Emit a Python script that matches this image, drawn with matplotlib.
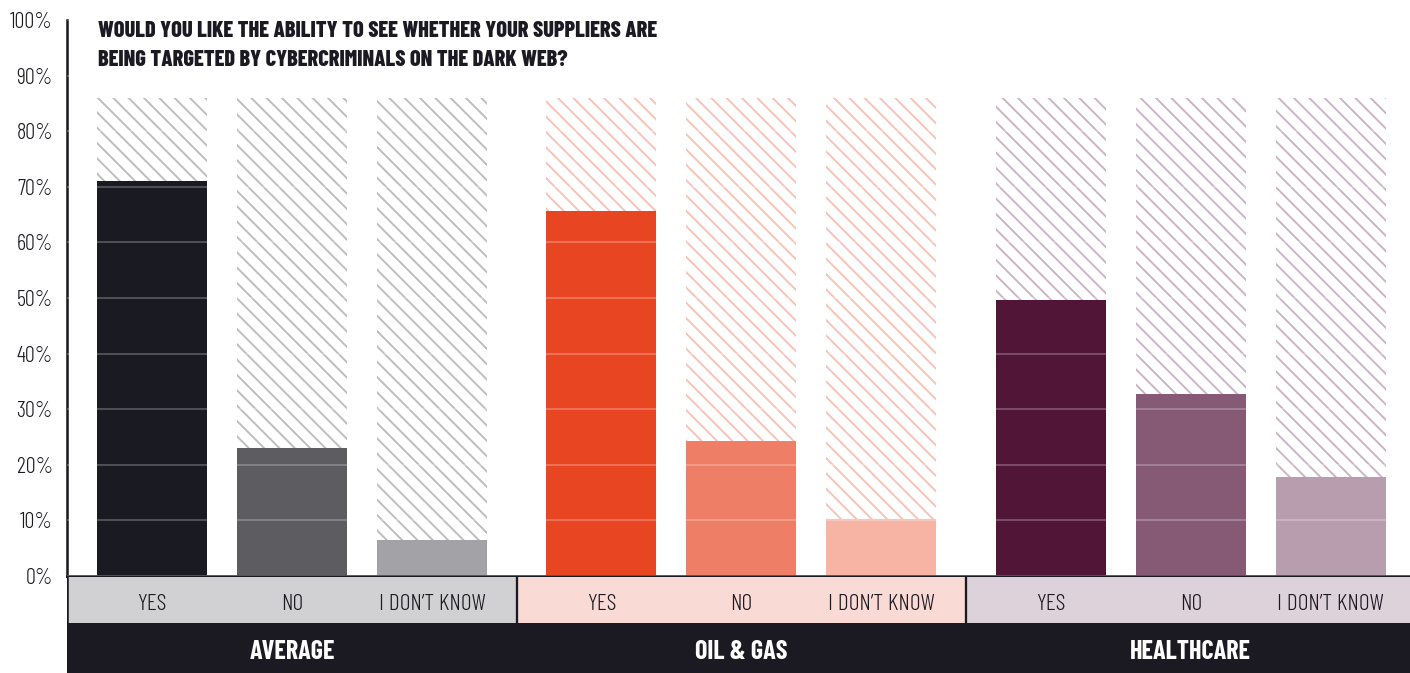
import matplotlib
matplotlib.use('Agg')
from matplotlib import pyplot as plt
import numpy as np

groups = ['AVERAGE', 'OIL & GAS', 'HEALTHCARE']
answers = ['YES', 'NO', 'I DON\u2019T KNOW']
average = [71, 23, 6.5]
oil_gas = [65.6, 24.3, 10.3]
healthcare = [49.6, 32.7, 17.8]
ceiling = 86
yticks = list(range(0, 101, 10))
title_lines = ['WOULD YOU LIKE THE ABILITY TO SEE WHETHER YOUR SUPPLIERS ARE',
               'BEING TARGETED BY CYBERCRIMINALS ON THE DARK WEB?']

series = [average, oil_gas, healthcare]
bar_colors = [['#1a1a23', '#5c5c61', '#a3a2a7'],
              ['#e84522', '#ef7e66', '#f7b4a5'],
              ['#511538', '#865a75', '#b89daf']]
hatch_colors = ['#bdbdbf', '#f8c3b6', '#cbb4c4']
panel_colors = ['#d1d1d3', '#f9dad4', '#ddd1da']
dark = '#1b1a23'

FONT = ['Barlow Condensed', 'Liberation Sans Narrow', 'DejaVu Sans']
plt.rcParams['font.family'] = FONT
plt.rcParams['hatch.linewidth'] = 1.5

W, H, DPI = 1410, 673, 92
fig = plt.figure(figsize=(W / DPI, H / DPI), dpi=DPI)

# bar layout: 3 bars per group, wider gap between groups
step = 3.21
width = 0.786
xlim = (-0.607, 8.986)

ax = fig.add_axes([67 / W, 1 - 576 / H, 1 - 67 / W, 556 / H])
low = fig.add_axes([67 / W, 0, 1 - 67 / W, 1 - 577 / H])

for g, vals in enumerate(series):
    x = g * step + np.arange(len(vals))
    ax.bar(x, [ceiling] * len(vals), width, color='white', edgecolor=hatch_colors[g],
           hatch='\\\\', linewidth=0, zorder=1)
    ax.bar(x, vals, width, color=bar_colors[g], linewidth=0, zorder=2)

ax.set_xlim(*xlim)
ax.set_ylim(0, 100)
ax.set_yticks(yticks)
ax.set_yticklabels([f'{v}%' for v in yticks], fontsize=17.5, fontweight=300, color=dark)
ax.tick_params(axis='y', length=0, pad=11)
ax.set_xticks([])
ax.grid(axis='y', color='white', alpha=0.3, linewidth=1.2)
ax.set_axisbelow(False)
for s in ['top', 'right']:
    ax.spines[s].set_visible(False)
ax.spines['left'].set_color(dark)
ax.spines['left'].set_linewidth(2)
ax.spines['bottom'].set_color(dark)
ax.spines['bottom'].set_linewidth(2.2)

# category strip and group band underneath
split = 50 / 96
low.set_xlim(*xlim)
low.set_ylim(0, 1)
low.axis('off')
low.axvspan(xlim[0], xlim[1], 0, split, color=dark, linewidth=0)
for g, name in enumerate(groups):
    left = xlim[0] if g == 0 else g * step - (step - 2) / 2
    right = xlim[1] if g == len(groups) - 1 else g * step + 2 + (step - 2) / 2
    low.axvspan(left, right, split, 1, color=panel_colors[g], linewidth=0)
    if g > 0:
        low.axvline(left, split, 1, color=dark, linewidth=1.8)
    for i, a in enumerate(answers):
        low.text(g * step + i, 63 / 96, a, ha='center', va='baseline',
                 fontsize=18.5, fontweight=300, color=dark)
    low.text(g * step + 1, 14 / 96, name, ha='center', va='baseline',
             fontsize=20.5, fontweight='bold', color='white')
low.axvline(xlim[0], 0, 1, color=dark, linewidth=2)

for k, line in enumerate(title_lines):
    fig.text(98 / W, 1 - (37 + 29 * k) / H, line, ha='left', va='baseline',
             fontsize=17.5, fontweight=800, color=dark)

fig.savefig('out.png', dpi=DPI)
